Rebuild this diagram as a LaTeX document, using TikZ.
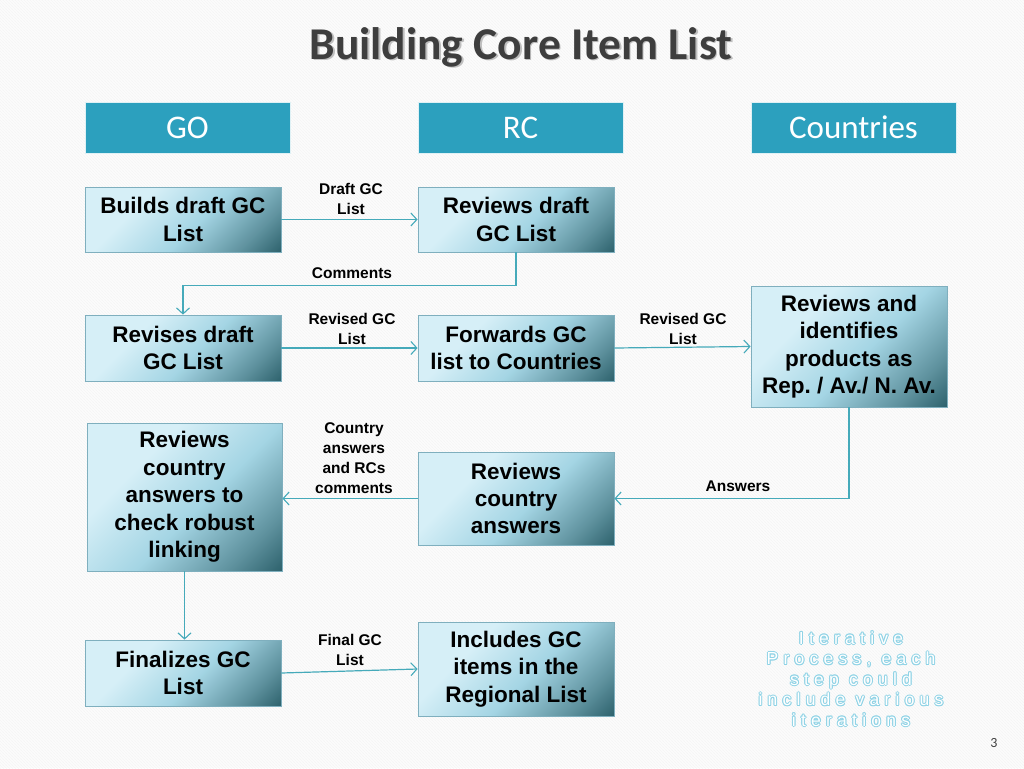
\documentclass[tikz,border=0pt]{standalone}
\usepackage{fontspec}
\setmainfont{Liberation Sans}
\newfontfamily\calfont{Carlito}
\newfontfamily\iterfont[LetterSpace=30]{Liberation Sans}
\usetikzlibrary{arrows.meta,patterns}
\definecolor{bgc}{HTML}{FCFCFC}
\definecolor{headc}{HTML}{2CA0BE}
\definecolor{linec}{HTML}{45AABA}
\definecolor{boxlight}{HTML}{D6EFF7}
\definecolor{boxmid}{HTML}{A4D5E4}
\definecolor{boxdark}{HTML}{1A4F59}
\definecolor{boxedge}{HTML}{7FAFBE}
\definecolor{titlec}{HTML}{3E3E3E}
\definecolor{iterc}{HTML}{8FD3E6}
\pgfdeclarehorizontalshading{boxshade}{100bp}{color(0bp)=(boxlight); color(34bp)=(boxlight); color(55bp)=(boxmid); color(74bp)=(boxmid!50!boxdark); color(90bp)=(boxdark); color(100bp)=(boxdark)}
\tikzset{
  header/.style={fill=headc, draw=white!85!headc, line width=0.6pt, minimum width=205pt, minimum height=51pt, inner sep=0pt, text=white, font=\calfont\fontsize{33}{36}\selectfont},
  procbox/.style={shading=boxshade, shading angle=-45, draw=boxedge, line width=0.8pt, inner sep=0pt, align=center, font=\fontsize{22.5}{27.4}\selectfont\bfseries, text=black},
  lbl/.style={align=center, font=\fontsize{15.5}{20}\selectfont\bfseries, inner sep=0pt},
  conn/.style={draw=linec, line width=1.2pt, -{Straight Barb[length=6pt,width=13pt,line width=1.1pt]}},
}
\begin{document}
\frenchspacing
\begin{tikzpicture}[x=1pt,y=-1pt]
\useasboundingbox (0,0) rectangle (1024,768);
\fill[bgc] (0,0) rectangle (1024,768);
\fill[pattern=north west lines, pattern color=black!4] (0,0) rectangle (1024,768);

% title
\node[text=black!25, font=\calfont\bfseries\fontsize{45.5}{48}\selectfont] at (522.5,48.5) {Building Core Item List};
\node (title) [text=titlec, font=\calfont\bfseries\fontsize{45.5}{48}\selectfont] at (521,47) {Building Core Item List};

% headers
\node (hgo) [header] at (187.5,127.5) {GO};
\node (hrc) [header] at (520.5,127.5) {RC};
\node (hco) [header] at (853.5,127.5) {Countries};

% process boxes
\node (build) [procbox, minimum width=196pt, minimum height=65pt] at (183,219.5) {Builds draft GC\\List};
\node (revdraft) [procbox, minimum width=196pt, minimum height=65pt] at (516,219.5) {Reviews draft\\GC List};
\node (revises) [procbox, minimum width=196pt, minimum height=66pt] at (183,348) {Revises draft\\GC List};
\node (forwards) [procbox, minimum width=196pt, minimum height=66pt] at (516,348) {Forwards GC\\list to Countries};
\node (ident) [procbox, minimum width=196pt, minimum height=121pt] at (849,346.5) {Reviews and\\identifies\\products as\\Rep. / Av./ N. Av.};
\node (lbox) [procbox, minimum width=195pt, minimum height=148pt] at (184.5,497) {Reviews\\country\\answers to\\check robust\\linking};
\node (rcrev) [procbox, minimum width=196pt, minimum height=93pt] at (516,498.5) {Reviews\\country\\answers};
\node (finalize) [procbox, minimum width=196pt, minimum height=66pt] at (183,673) {Finalizes GC\\List};
\node (includes) [procbox, minimum width=196pt, minimum height=94pt] at (516,669) {Includes GC\\items in the\\Regional List};

% connectors
\draw[conn] (build.east) -- (revdraft.west);
\draw[conn] (revdraft.south) -- ++(0,33) -| (revises.north);
\draw[conn] (revises.east) -- (forwards.west);
\draw[conn] (forwards.east) -- (ident.west);
\draw[conn] (ident.south) |- (rcrev.east);
\draw[conn] (rcrev.west) -- (rcrev.west -| lbox.east);
\draw[conn] (lbox.south) -- (lbox.south |- finalize.north);
\draw[conn] (finalize.east) -- (includes.west);

% labels
\node (l1) [lbl] at (351,199) {Draft GC\\List};
\node (l2) [lbl] at (352,273) {Comments};
\node (l3) [lbl] at (352,329) {Revised GC\\List};
\node (l4) [lbl] at (683,329) {Revised GC\\List};
\node (l5) [lbl] at (354,458) {Country\\answers\\and RCs\\comments};
\node (l6) [lbl] at (738,486) {Answers};
\node (l7) [lbl] at (350,650) {Final GC\\List};

% iterative note (outlined text)
\foreach \dx/\dy in {1/0,-1/0,0/1,0/-1,0.7/0.7,-0.7/0.7,0.7/-0.7,-0.7/-0.7}
  \node[align=center, text=iterc, font=\iterfont\fontsize{17.5}{20.5}\selectfont] at (851+\dx,679+\dy) {Iterative\\Process, each\\step could\\include various\\iterations};
\node (iter) [align=center, text=white, font=\iterfont\fontsize{17.5}{20.5}\selectfont] at (851,679) {Iterative\\Process, each\\step could\\include various\\iterations};

% page number
\node (pnum) [text=black!75, font=\calfont\fontsize{14}{16}\selectfont] at (994,743) {3};
\end{tikzpicture}
\end{document}
